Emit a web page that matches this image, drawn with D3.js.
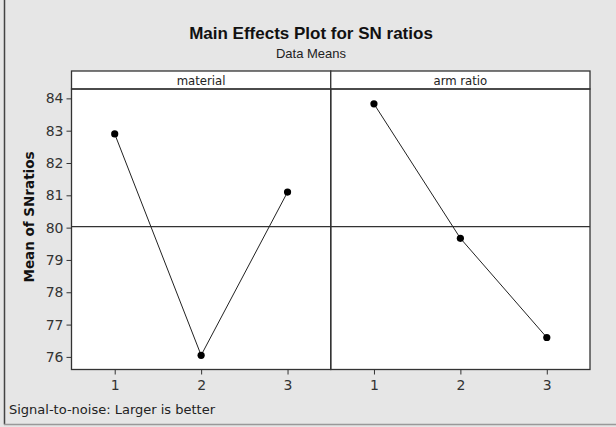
<!DOCTYPE html>
<html lang="en">
<head>
<meta charset="utf-8">
<script src="https://d3js.org/d3.v7.min.js"></script>
<style>
  body { margin: 0; background: #e6e6e6; }
  svg { display: block; }
</style>
</head>
<body>
<script>
// factor levels and SN-ratio means
var factors = ["material", "arm ratio"];
var levels = [1, 2, 3];
var materialMeans = [82.9, 76.05, 81.1];
var armRatioMeans = [83.83, 79.67, 76.6];
var yTicks = [76, 77, 78, 79, 80, 81, 82, 83, 84];
var grandMean = 80.03;

var W = 616, H = 427;
var plotLeft = 71.5, plotRight = 590, plotTop = 71, stripH = 18, plotBottom = 369.5;
var panelW = (plotRight - plotLeft) / 2;
var tickFont = "DejaVu Sans, sans-serif";
var condFont = "DejaVu Sans Condensed, DejaVu Sans, sans-serif";

var svg = d3.select("body").append("svg")
    .attr("width", W).attr("height", H);

// outer frame (left + bottom edges visible)
svg.append("line").attr("x1", 4.5).attr("x2", 4.5).attr("y1", 0).attr("y2", 424.5)
    .attr("stroke", "#444").attr("stroke-width", 1.5);
svg.append("line").attr("x1", 4).attr("x2", W).attr("y1", 424.5).attr("y2", 424.5)
    .attr("stroke", "#999").attr("stroke-width", 1.5);

svg.append("text").attr("x", 311).attr("y", 39)
    .attr("text-anchor", "middle")
    .attr("font-family", "Liberation Sans, Arial, sans-serif")
    .attr("font-weight", "bold").attr("font-size", 17)
    .attr("fill", "#111")
    .text("Main Effects Plot for SN ratios");

svg.append("text").attr("x", 311).attr("y", 57.5)
    .attr("text-anchor", "middle")
    .attr("font-family", "Liberation Sans, Arial, sans-serif")
    .attr("font-size", 13).attr("fill", "#222")
    .text("Data Means");

var y = d3.scaleLinear().domain([75.61, 84.29]).range([plotBottom, plotTop + stripH]);

// plot area background
svg.append("rect").attr("x", plotLeft).attr("y", plotTop)
    .attr("width", plotRight - plotLeft).attr("height", plotBottom - plotTop)
    .attr("fill", "#fff");

var series = [materialMeans, armRatioMeans];
var line = d3.line();

factors.forEach(function(name, i) {
  var x0 = plotLeft + i * panelW;
  var x = d3.scaleLinear().domain([0.5, 3.5]).range([x0, x0 + panelW]);

  var g = svg.append("g");

  // strip
  g.append("rect").attr("x", x0).attr("y", plotTop)
      .attr("width", panelW).attr("height", stripH)
      .attr("fill", "#fff").attr("stroke", "#333").attr("stroke-width", 1.3);
  g.append("text").attr("x", x0 + panelW / 2).attr("y", plotTop + 14)
      .attr("text-anchor", "middle")
      .attr("font-family", condFont)
      .attr("font-size", 13).attr("fill", "#222")
      .text(name);

  // panel frame
  g.append("rect").attr("x", x0).attr("y", plotTop + stripH)
      .attr("width", panelW).attr("height", plotBottom - plotTop - stripH)
      .attr("fill", "none").attr("stroke", "#333").attr("stroke-width", 1.3);

  // grand mean reference
  g.append("line").attr("x1", x0).attr("x2", x0 + panelW)
      .attr("y1", y(grandMean)).attr("y2", y(grandMean))
      .attr("stroke", "#333").attr("stroke-width", 1.3);

  var xAxis = g.append("g").attr("transform", "translate(0," + plotBottom + ")")
      .call(d3.axisBottom(x).tickValues(levels).tickSize(5).tickFormat(d3.format("d")));
  xAxis.select(".domain").remove();
  xAxis.selectAll("line").attr("stroke", "#333");
  xAxis.selectAll("text").attr("font-family", tickFont)
      .attr("font-size", 14).attr("fill", "#333").attr("dy", "0.9em");

  var pts = levels.map(function(l, j) { return [x(l), y(series[i][j])]; });
  g.append("path").attr("d", line(pts))
      .attr("fill", "none").attr("stroke", "#222").attr("stroke-width", 1);
  g.selectAll("circle").data(pts).enter().append("circle")
      .attr("cx", function(d) { return d[0]; })
      .attr("cy", function(d) { return d[1]; })
      .attr("r", 3.6).attr("fill", "#000");
});

var yAxis = svg.append("g").attr("transform", "translate(" + plotLeft + ",0)")
    .call(d3.axisLeft(y).tickValues(yTicks).tickSize(5));
yAxis.select(".domain").remove();
yAxis.selectAll("line").attr("stroke", "#333");
yAxis.selectAll("text").attr("font-family", tickFont)
    .attr("font-size", 14).attr("fill", "#333").attr("x", -8);

svg.append("text")
    .attr("transform", "translate(34,217) rotate(-90)")
    .attr("text-anchor", "middle")
    .attr("font-family", "DejaVu Sans, sans-serif")
    .attr("font-weight", "bold").attr("font-size", 13.5).attr("fill", "#111")
    .text("Mean of SNratios");

svg.append("text").attr("x", 9).attr("y", 414)
    .attr("font-family", tickFont)
    .attr("font-size", 13).attr("fill", "#222")
    .text("Signal-to-noise: Larger is better");
</script>
</body>
</html>
